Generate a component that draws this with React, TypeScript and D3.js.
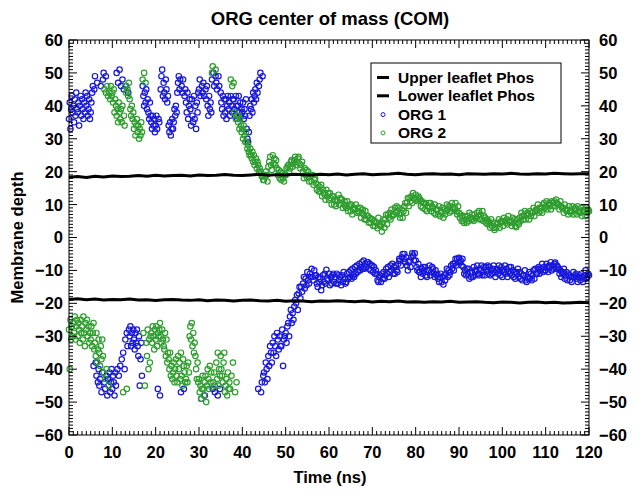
import React from 'react';
import * as d3 from 'd3';

// ---- Tick labels ----
const xTickValues = [0, 10, 20, 30, 40, 50, 60, 70, 80, 90, 100, 110, 120];
const yTickValues = [-60, -50, -40, -30, -20, -10, 0, 10, 20, 30, 40, 50, 60];

// ---- Phosphate leaflet positions, one value every 2 ns ----
const leafletTimes = [0,2,4,6,8,10,12,14,16,18,20,22,24,26,28,30,32,34,36,38,40,42,44,46,48,50,52,54,56,58,60,62,64,66,68,70,72,74,76,78,80,82,84,86,88,90,92,94,96,98,100,102,104,106,108,110,112,114,116,118,120];
const upperLeaflet = [
  18.3,18.5,18.2,18.6,18.4,18.7,18.5,18.6,18.8,18.6,
  18.9,18.7,18.8,18.9,18.7,19.0,18.8,18.9,19.1,18.9,
  18.8,19.0,19.2,18.9,19.1,19.0,19.2,19.1,19.0,19.2,
  19.1,19.3,19.0,19.2,19.4,19.1,19.2,19.3,19.5,19.2,
  19.1,19.3,19.4,19.2,19.3,19.1,19.4,19.3,19.2,19.4,
  19.3,19.5,19.3,19.2,19.4,19.3,19.5,19.4,19.3,19.4,
  19.4];
const lowerLeaflet = [
  -18.8,-18.6,-18.9,-18.7,-19.0,-18.8,-18.9,-18.7,-19.0,-18.9,
  -19.1,-18.9,-18.8,-19.0,-19.1,-18.9,-19.2,-19.0,-19.1,-19.3,
  -19.1,-19.0,-19.2,-19.3,-19.1,-19.4,-19.2,-19.3,-19.5,-19.3,
  -19.4,-19.2,-19.4,-19.5,-19.3,-19.6,-19.4,-19.5,-19.3,-19.6,
  -19.5,-19.7,-19.5,-19.6,-19.4,-19.7,-19.6,-19.5,-19.7,-19.8,
  -19.6,-19.7,-19.9,-19.7,-19.6,-19.8,-19.7,-19.9,-19.8,-19.7,
  -19.8];

// ---- ORG 1 samples: one group per ns, samples evenly spaced inside the ns ----
const org1 = [
  [36,41,33,39,43,38],[40,35,42,37,44,39],[38,41,34,40,43,37],[42,39,36,41,38,44],[40,43,37,39,42,36],
  [38,41,44,46,-39,45],[49,-38,-42,47,-44,-40],[-45,-43,46,-47,-41,48],[50,-44,-46,49,-42,-48],[-43,-45,-41,-47,-44,-40],
  [-46,-42,-44,-48,-41,-45],[50,-40,47,-42,51,-39],[46,-37,48,-35,45,-40],[-31,46,-29,-33,44,-28],[-30,-27,-33,-29,-32,-28],
  [-31,-34,-29,-32,-28,-33],[-36,-30,-45,-37,-32,-42],[46,43,40,44,41,45],[39,42,38,36,41,37],[35,33,37,34,36,32],
  [34,37,33,-46,36,35],[-48,45,49,51,43,47],[44,42,48,45,41,43],[34,32,35,31,33,36],[33,35,39,37,40,38],
  [44,47,49,45,48,-47],[46,44,48,-46,43,45],[41,38,44,36,40,42],[39,34,42,37,35,43],[36,40,33,41,38,44],
  [45,48,43,-49,46,44],[47,43,-48,45,42,46],[40,37,43,39,41,38],[48,-46,50,46,-47,49],[47,45,-48,49,46,-46],
  [44,41,39,43,37,42],[38,42,36,40,43,39],[41,37,43,40,38,42],[42,39,37,43,40,36],[40,43,38,41,37,39],
  [38,41,36,39,37,42],[33,30,29,32,37,40],[39,42,38,44,41,43],[45,42,47,44,-46,46],[48,50,-47,-44,49,-42],
  [-41,-44,-38,-40,-43],[-36,-39,-33,-35,-38],[-32,-35,-30,-33,-36],[-29,-31,-34,-30,-33],[-33,-28,-39,-31,-30],
  [-29,-32,-27,-26,-30],[-24,-22,-26,-23,-25],[-21,-19,-20,-17.5,-22],[-17,-15,-18.5,-15,-16.5],[-14,-12,-15.5,-12.5,-14.5],
  [-10.5,-13,-14,-11,-12],[-9.5,-12,-13,-10,-11.5],[-11.5,-14,-15,-12,-13.5],[-12.5,-16,-14.5,-11.5,-13.5],[-11,-14,-9.8,-12.5,-13],
  [-11,-14.5,-12,-14,-11.5],[-11,-13.5,-12,-14,-11],[-14,-11.5,-13,-12,-14.5],[-11.5,-13.5,-10.5,-12.5,-14],[-13.5,-11,-12.5,-10.5,-12],
  [-10,-12.5,-9.5,-11.5,-12],[-9,-11,-8.5,-10.5,-10],[-8,-10,-9,-7.5,-9.5],[-7,-9.5,-8,-9,-7.5],[-7.5,-9.5,-8,-10,-8.5],
  [-8.5,-10.5,-9,-11,-10],[-11,-13,-13.5,-12,-11.5],[-13.5,-11,-12.5,-10.5,-12.5],[-11.5,-9.5,-11,-9,-12],[-10.5,-8.5,-10,-8,-11],
  [-9,-11,-8.5,-10,-10.5],[-8,-6.5,-7,-8.5,-6],[-5,-6.5,-5,-7.5,-6],[-8.5,-10,-7.5,-7,-9],[-6,-4.8,-5.5,-7,-4.8],
  [-7,-9,-10,-8,-10.5],[-10.5,-12,-9.5,-11,-9],[-10,-9,-11.5,-12,-10],[-10,-8.5,-11.5,-10.5,-9],[-9.5,-11,-12,-10,-11.5],
  [-11,-12.5,-13.5,-12,-11],[-13.5,-12,-14.3,-11.5,-13],[-11,-9.5,-12,-10,-11.5],[-10.5,-8.5,-9.5,-8,-10],[-8,-6.5,-8.5,-6.5,-7.5],
  [-6.2,-7.5,-7,-8.5,-6.5],[-9,-11,-10,-11.5,-9.5],[-11,-9.5,-12.5,-10.5,-12],[-10.5,-12,-9,-10,-11.5],[-10,-8.5,-11,-11.5,-9.5],
  [-10,-8.5,-11.5,-10.5,-9],[-11.5,-9,-10,-8.5,-11],[-9,-11.5,-10,-11,-9.5],[-8.5,-10.5,-12,-10,-9.5],[-11,-8.5,-10,-11.5,-9],
  [-12,-10,-10.5,-8.5,-11],[-9.5,-12,-10.5,-9,-11],[-9,-11.5,-10,-12,-10.5],[-12.5,-10.5,-11,-9.5,-12],[-10.5,-12.5,-11,-13,-11.5],
  [-11.5,-10,-13,-13.5,-12],[-12.5,-10.5,-12.5,-11,-13],[-11.5,-10,-12.5,-9.5,-11],[-11,-9.5,-9,-11,-10],[-9.5,-8,-10.5,-9,-10],
  [-10,-8,-9,-10.5,-8.5],[-9,-7.5,-10,-8.5,-9.5],[-8,-7.6,-9.5,-8.5,-9],[-9.5,-11,-10,-12,-10.5],[-11,-9.5,-12.5,-11.5,-10.5],
  [-13,-11,-11.5,-13,-12],[-13.5,-12,-10.5,-12,-11.5],[-11,-12.5,-13.5,-12,-11.5],[-13,-11,-12,-13.5,-12.5],[-11.5,-10,-12.5,-12,-11],
  [-11.5]
];

// ---- ORG 2 samples ----
const org2 = [
  [-28,-40,-25,-31,-27,-30],[-26,-29,-24,-31,-27,-25],[-30,-26,-28,-32,-25,-29],[-27,-31,-24,-29,-33,-26],[-28,-25,-30,-27,-32,-29],
  [-31,-27,-33,-29,-26,-34],[-32,-36,-29,-38,-34,-31],[-35,-39,-33,-37,-31,-36],[-41,45,-43,44,-40,46],[43,-45,44,42,46,43],
  [44,41,45,38,42,40],[37,39,35,41,38,36],[39,35,40,-47,37,34],[46,44,-46,45,43,47],[42,39,37,40,36,38],
  [33,35,31,34,36,32],[34,30,33,31,35,32],[48,-29,50,-45,47,-32],[-36,-28,-40,-31,-38,-30],[-29,-32,-27,-30,-34,-28],
  [-31,-27,-33,-29,-30,-28],[-26,-30,-32,-28,-31,-33],[-34,-29,-36,-31,-38,-35],[-37,-40,-35,-42,-39,-43],[-41,-38,-44,-40,-37,-42],
  [-44,-36,-40,-38,-43,-35],[-42,-45,-37,-39,-41,-44],[-43,-39,-44,-38,-41,-30],[-27,-31,-26,-33,-29,-35],[-32,-36,-40,-43,-38,-44],
  [-43,-47,-45,-49,-46,-42],[-46,-48,-44,-42,-50,-45],[-40,-43,-46,-39,-44,-41],[50,52,-44,-41,-45,51],[-38,-43,-35,-45,-40,-42],
  [-36,-40,-42,-44,-38,-35],[-47,-45,-43,-48,-41,-46],[-44,-46,48,-42,46,-38],[47,38,-47,36,-44,37],[35,37,33,36,34,32],
  [33,30,34,31,29,32],[29,27,28,26,25,27],[25,24,26,23,25,22],[23,24,21,23,22,20],[21,19.5,20,18.5,19,17.5],
  [17.5,18.5,20,19,17],[21.5,23,24.5,22,20.5],[25,22.5,24,22,23.5],[21,19,20.5,18,20],[17.5,19.5,18,17,19],
  [19,21,21.5,22,20],[21,23,23.5,21.5,22.5],[23.5,24.5,22,23,24],[24.5,22.5,21,22,23],[20,18,21,19,20.5],
  [18,20,17,18.5,19],[17,19,16,17.5,18],[16.5,14.5,16,14,15.5],[14,16,12.5,14.5,13.5],[13,11.5,14.5,12.5,13.5],
  [11.5,13.5,12,10,12.5],[12.5,10,11.5,9.5,11],[11,13,10,12,11.5],[11.5,9,10,11,9.5],[9,11,8,9.5,10],
  [8,10,7,8.5,9],[8.5,10,7.5,9,8],[7.5,9,6,7.5,8.5],[7,5.5,8,5.5,6.5],[6.5,4.5,6,4.5,5.5],
  [5.5,3.5,5,3.5,4.5],[4.5,2.8,6,4,3.5],[3.5,1.8,4.5,5.5,3],[5.5,7,4,7,6],[7.5,5.5,8.5,6.5,7],
  [7,9,7.5,9.5,8],[9,7,6,7.5,8.5],[6,8,9.5,10.5,7.5],[10.5,12,9.5,12,11],[12.5,10.5,13.5,12,11.5],
  [13,11.5,11,12.5,12],[11.5,9.5,11,9,10.5],[10.5,8.5,10.5,8,9.5],[10.5,9,10.5,8,9.5],[9,7.5,10,7,8.5],
  [8.5,7,9.5,6.5,8],[7.5,9,6,8.5,7],[8,10,8.5,9.5,7.5],[9.5,8,10.5,9,8.5],[9,10.5,8,7,9.5],
  [7.5,6,7,5,6.5],[5,4.4,6.5,5.5,4.5],[6.5,5,7.5,6,5.5],[7,5.5,5,7,6],[6,7.5,6.5,8,5.5],
  [7,5.5,8,5,6.5],[6,4.5,5.5,4,5],[4.5,3,5.5,3.5,4.5],[3,2.3,4.5,3,4],[4.5,5.5,3,4.5,5],
  [5,3.5,6,5,4.5],[5.5,4,6.5,5,4.5],[5,3.5,6,4.5,5.5],[3.5,3.1,5.5,4.5,4],[6,5,7.5,6.5,5.5],
  [6.5,8,5.5,7,7.5],[7,5.5,8,6.5,7.5],[7.5,9,6.5,8,8.5],[8.5,10,7.5,9,8],[9,7.5,10,10.5,9],
  [9.5,11,8.5,10,10.5],[10,8.5,11,9.5,10.5],[11,9.5,11.5,10.5,10],[10,8.5,11,9.5,9],[9,7.5,10,8.5,8],
  [8.5,7,9.5,8,7.5],[8,9.5,7,8.5,9],[8.5,7,9.5,8,7.5],[7.5,9,6.5,8,8.5],[8,6.5,9,7.5,8.5],
  [8]
];

const legendLabels = ['Upper leaflet Phos', 'Lower leaflet Phos', 'ORG 1', 'ORG 2'];

const FONT = '"Liberation Sans", Arial, Helvetica, sans-serif';
const BLUE = '#1818dc';
const GREEN = '#2f9e2f';

const W = 639;
const H = 496;
const X0 = 69, X1 = 589, Y0 = 40, Y1 = 435;

function toPoints(groups: number[][]) {
  const pts: { t: number; v: number }[] = [];
  groups.forEach((g, ns) => {
    g.forEach((v, j) => pts.push({ t: ns + j / g.length, v }));
  });
  return pts;
}

export default function App() {
  const x = d3.scaleLinear().domain([0, 120]).range([X0, X1]);
  const y = d3.scaleLinear().domain([-60, 60]).range([Y1, Y0]);
  const fmt = d3.format('d');

  const minorX = d3.range(0, 121, 1);
  const minorY = d3.range(-60, 61, 1);

  const line = d3
    .line<number>()
    .x((_, i) => x(leafletTimes[i]))
    .y((d) => y(d));

  const p1 = toPoints(org1);
  const p2 = toPoints(org2);

  const majorLen = 8;
  const minorLen = 4;

  return (
    <svg
      width={W}
      height={H}
      style={{ position: 'absolute', left: 0, top: 0, background: '#fff' }}
      fontFamily={FONT}
      fontWeight="bold"
    >
      <rect x={0} y={0} width={W} height={H} fill="#fff" />
      <text x={330} y={25} textAnchor="middle" fontSize={18.5}>
        ORG center of mass (COM)
      </text>

      <g fill="none" strokeWidth={1.2}>
        {p1.map((p, i) => (
          <circle key={'a' + i} cx={x(p.t)} cy={y(p.v)} r={2.7} stroke={BLUE} />
        ))}
        {p2.map((p, i) => (
          <circle key={'b' + i} cx={x(p.t)} cy={y(p.v)} r={2.7} stroke={GREEN} />
        ))}
      </g>

      <path d={line(upperLeaflet) || ''} fill="none" stroke="#000" strokeWidth={3} />
      <path d={line(lowerLeaflet) || ''} fill="none" stroke="#000" strokeWidth={3} />

      <rect x={X0} y={Y0} width={X1 - X0} height={Y1 - Y0} fill="none" stroke="#000" strokeWidth={1} />

      <g stroke="#000" strokeWidth={1}>
        {minorX.map((t) => {
          const len = t % 10 === 0 ? majorLen : minorLen;
          const px = x(t);
          return (
            <g key={'xt' + t}>
              <line x1={px} x2={px} y1={Y1} y2={Y1 - len} />
              <line x1={px} x2={px} y1={Y0} y2={Y0 + len} />
            </g>
          );
        })}
        {minorY.map((v) => {
          const len = v % 10 === 0 ? majorLen : minorLen;
          const py = y(v);
          return (
            <g key={'yt' + v}>
              <line x1={X0} x2={X0 + len} y1={py} y2={py} />
              <line x1={X1} x2={X1 - len} y1={py} y2={py} />
            </g>
          );
        })}
      </g>

      <g fontSize={16.5}>
        {xTickValues.map((t) => (
          <text key={'xl' + t} x={x(t)} y={458} textAnchor="middle">
            {fmt(t)}
          </text>
        ))}
        {yTickValues.map((v) => (
          <text key={'yl' + v} x={63} y={y(v)} dy="0.36em" textAnchor="end">
            {fmt(v)}
          </text>
        ))}
        {yTickValues.map((v) => (
          <text key={'yr' + v} x={599} y={y(v)} dy="0.36em" textAnchor="start">
            {fmt(v)}
          </text>
        ))}
      </g>

      <text x={330} y={483} textAnchor="middle" fontSize={16.5}>
        Time (ns)
      </text>
      <text
        transform={`translate(23, ${(Y0 + Y1) / 2}) rotate(-90)`}
        textAnchor="middle"
        fontSize={16.5}
      >
        Membrane depth
      </text>

      <g>
        <rect x={371} y={63} width={190} height={80} fill="#fff" stroke="#000" strokeWidth={1} />
        {legendLabels.map((lab, i) => {
          const by = 83 + i * 18.3;
          return (
            <g key={lab}>
              {i < 2 ? (
                <line x1={377} x2={389} y1={by - 5.5} y2={by - 5.5} stroke="#000" strokeWidth={3} />
              ) : (
                <circle cx={383} cy={by - 5} r={2} fill="none" stroke={i === 2 ? BLUE : GREEN} strokeWidth={1} />
              )}
              <text x={398} y={by} fontSize={15.5}>
                {lab}
              </text>
            </g>
          );
        })}
      </g>
    </svg>
  );
}
